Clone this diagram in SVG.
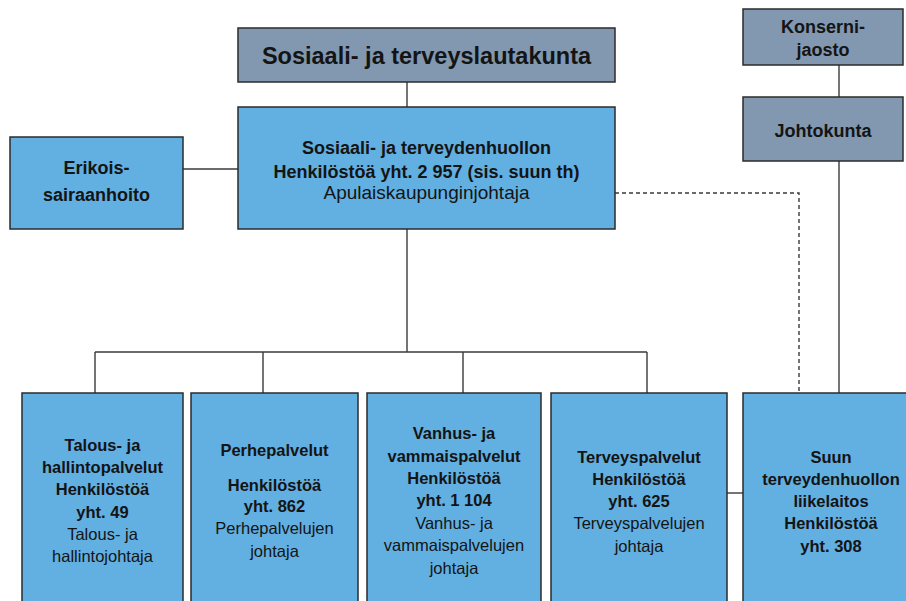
<svg xmlns="http://www.w3.org/2000/svg" width="906" height="601" viewBox="0 0 906 601">
  <style>
    .board { fill: #8198b0; stroke: #2b2b2b; stroke-width: 1.5; }
    .unit { fill: #62afe1; stroke: #2b2b2b; stroke-width: 1.5; }
    .t { font-family: "Liberation Sans", Arial, sans-serif; fill: #141414; text-anchor: middle; }
    .h { font-weight: bold; }
    .big { font-size: 23.5px; }
    .mid { font-size: 18px; }
    .lead { font-size: 19px; }
    .sm { font-size: 16.5px; }
    .link { fill: none; stroke: #3a3a3a; stroke-width: 1.4; }
    .dash { stroke-dasharray: 4 3; }
  </style>
  <rect width="906" height="601" fill="#ffffff"/>

  <g id="connectors">
    <path class="link" d="M407 82V107"/>
    <path class="link" d="M183 169H238"/>
    <path class="link" d="M407 229V352"/>
    <path class="link" d="M95 352H647"/>
    <path class="link" d="M95 352V393M263 352V393M463 352V393M647 352V393"/>
    <path class="link" d="M839 65V97"/>
    <path class="link" d="M839 161V393"/>
    <path class="link dash" d="M615 193H799V393"/>
    <path class="link" d="M727 493H743"/>
  </g>

  <g id="lautakunta">
    <rect class="board" x="238" y="28" width="377" height="54"/>
    <text class="t h big" x="426.5" y="64">Sosiaali- ja terveyslautakunta</text>
  </g>

  <g id="sote">
    <rect class="unit" x="238" y="107" width="377" height="122"/>
    <text class="t h mid" x="426.5" y="154">Sosiaali- ja terveydenhuollon</text>
    <text class="t h mid" x="426.5" y="178">Henkilöstöä yht. 2 957 (sis. suun th)</text>
    <text class="t lead" x="426.5" y="199">Apulaiskaupunginjohtaja</text>
  </g>

  <g id="erikoissairaanhoito">
    <rect class="unit" x="10" y="137" width="173" height="92"/>
    <text class="t h mid" x="96.5" y="174">Erikois-</text>
    <text class="t h mid" x="96.5" y="201">sairaanhoito</text>
  </g>

  <g id="konsernijaosto">
    <rect class="board" x="743" y="9" width="160" height="56"/>
    <text class="t h mid" x="823" y="33">Konserni-</text>
    <text class="t h mid" x="823" y="56">jaosto</text>
  </g>

  <g id="johtokunta">
    <rect class="board" x="743" y="97" width="160" height="64"/>
    <text class="t h mid" x="823" y="137">Johtokunta</text>
  </g>

  <g id="talous">
    <rect class="unit" x="22" y="393" width="161" height="230"/>
    <text class="t h sm" x="102.5" y="451">Talous- ja</text>
    <text class="t h sm" x="102.5" y="473">hallintopalvelut</text>
    <text class="t h sm" x="102.5" y="495">Henkilöstöä</text>
    <text class="t h sm" x="102.5" y="518">yht. 49</text>
    <text class="t sm" x="102.5" y="540">Talous- ja</text>
    <text class="t sm" x="102.5" y="562">hallintojohtaja</text>
  </g>

  <g id="perhe">
    <rect class="unit" x="191" y="393" width="167" height="230"/>
    <text class="t h sm" x="274.5" y="456">Perhepalvelut</text>
    <text class="t h sm" x="274.5" y="491">Henkilöstöä</text>
    <text class="t h sm" x="274.5" y="512">yht. 862</text>
    <text class="t sm" x="274.5" y="534">Perhepalvelujen</text>
    <text class="t sm" x="274.5" y="557">johtaja</text>
  </g>

  <g id="vanhus">
    <rect class="unit" x="367" y="393" width="174" height="230"/>
    <text class="t h sm" x="454" y="439">Vanhus- ja</text>
    <text class="t h sm" x="454" y="462">vammaispalvelut</text>
    <text class="t h sm" x="454" y="484">Henkilöstöä</text>
    <text class="t h sm" x="454" y="506">yht. 1 104</text>
    <text class="t sm" x="454" y="529">Vanhus- ja</text>
    <text class="t sm" x="454" y="551">vammaispalvelujen</text>
    <text class="t sm" x="454" y="574">johtaja</text>
  </g>

  <g id="terveys">
    <rect class="unit" x="551" y="393" width="176" height="230"/>
    <text class="t h sm" x="639" y="463">Terveyspalvelut</text>
    <text class="t h sm" x="639" y="485">Henkilöstöä</text>
    <text class="t h sm" x="639" y="507">yht. 625</text>
    <text class="t sm" x="639" y="529">Terveyspalvelujen</text>
    <text class="t sm" x="639" y="552">johtaja</text>
  </g>

  <g id="suun">
    <rect class="unit" x="743" y="393" width="177" height="230"/>
    <text class="t h sm" x="831" y="463">Suun</text>
    <text class="t h sm" x="831" y="485">terveydenhuollon</text>
    <text class="t h sm" x="831" y="507">liikelaitos</text>
    <text class="t h sm" x="831" y="529">Henkilöstöä</text>
    <text class="t h sm" x="831" y="552">yht. 308</text>
  </g>
</svg>
